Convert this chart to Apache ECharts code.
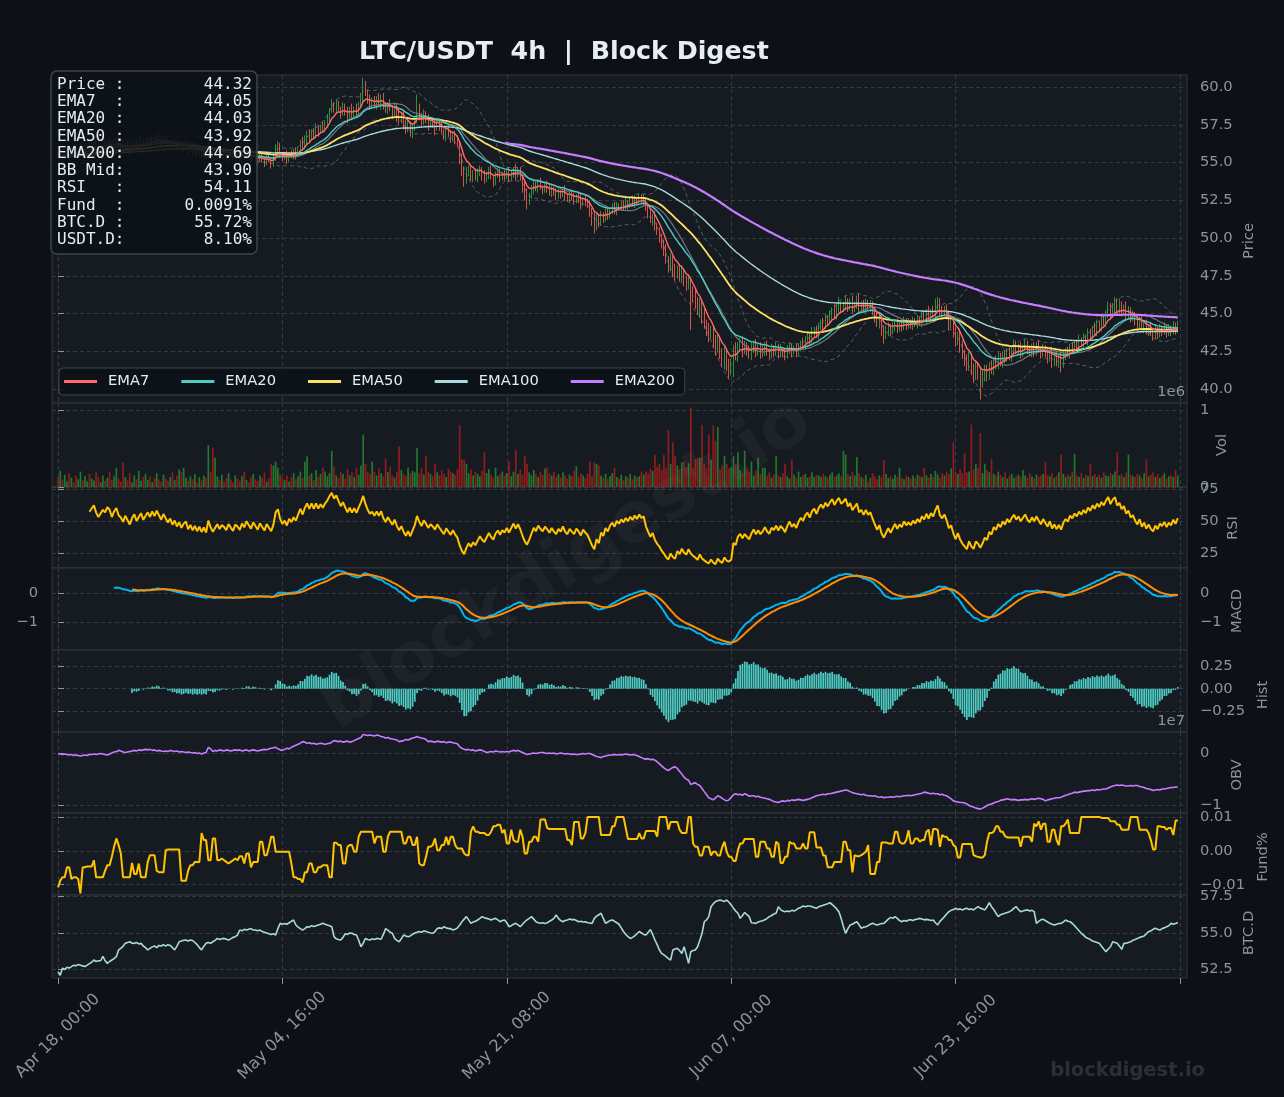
<!DOCTYPE html>
<html><head><meta charset="utf-8">
<script src="https://cdn.jsdelivr.net/npm/echarts@6/dist/echarts.min.js"></script>
<style>html,body{margin:0;padding:0;background:#0d1117;}#c{width:1284px;height:1097px;}</style>
</head><body><div id="c"></div>
<script>
// ---------- data ----------
const dateLabels = ['Apr 18, 00:00','May 04, 16:00','May 21, 08:00','Jun 07, 00:00','Jun 23, 16:00'];
const firstOpen = 55.5;
const close = [
55.4,55.6,55.3,55.5,55.8,55.6,55.9,55.7,55.6,55.9,56.1,55.8,56.0,56.2,55.9,56.1,56.3,56.0,55.8,56.0,
56.2,56.1,56.4,56.3,56.0,56.3,56.5,56.2,56.1,55.9,56.2,56.0,55.8,56.1,56.3,56.0,56.2,56.4,56.1,56.3,
56.5,56.3,56.6,56.4,56.7,56.5,56.3,56.6,56.4,56.2,56.4,56.1,56.3,56.0,56.2,55.9,56.1,56.2,55.8,56.0,
55.7,55.9,55.6,55.8,55.5,55.7,55.4,56.0,55.6,55.3,55.5,55.7,55.4,55.6,55.5,55.3,55.6,55.4,55.2,55.5,
55.4,55.2,55.5,55.3,55.6,55.4,55.2,55.5,55.3,55.1,55.4,55.2,55.0,55.3,55.1,54.9,55.2,55.9,56.1,55.6,
55.3,55.5,55.2,55.6,55.4,55.7,55.5,55.9,56.3,56.0,56.5,56.9,56.6,57.1,56.8,57.3,57.0,57.4,57.2,57.6,
57.9,58.4,58.8,58.5,58.9,58.6,58.3,58.7,58.4,58.1,58.5,58.2,58.6,58.3,58.8,59.3,60.1,59.6,59.2,58.9,
59.1,58.8,59.2,58.9,59.3,58.8,58.5,58.9,58.6,58.3,58.7,58.2,57.8,58.1,57.6,57.2,57.5,57.0,57.4,57.8,
58.6,58.1,57.7,58.2,57.9,57.5,57.8,57.6,57.3,57.7,57.4,57.1,56.8,57.2,56.9,56.6,56.9,56.5,56.2,55.3,
54.5,53.9,54.3,54.6,54.1,54.4,54.0,54.3,54.6,54.2,53.9,54.2,54.5,54.1,53.8,54.2,54.4,54.0,54.3,54.1,
54.4,54.0,54.3,54.6,54.2,54.5,54.1,53.5,52.9,52.5,52.8,53.2,53.6,53.3,53.7,53.4,53.2,53.5,53.3,53.0,
53.3,53.0,52.8,53.1,52.9,53.2,52.8,52.6,52.9,52.7,52.5,52.8,52.6,52.3,52.6,52.4,52.2,51.8,51.3,50.9,
51.4,51.0,51.6,51.3,51.8,51.5,51.9,52.1,51.8,52.2,52.0,52.3,52.1,52.4,52.2,52.5,52.3,52.6,52.4,52.7,
52.5,52.6,52.0,51.6,51.2,51.4,50.8,50.4,50.1,49.6,49.2,48.6,48.2,48.5,47.9,47.6,48.0,47.5,47.8,47.2,
46.9,47.2,46.5,46.1,45.8,45.3,45.6,44.8,44.4,44.0,43.7,43.9,43.2,42.8,43.1,42.5,42.1,42.4,41.7,41.5,
41.6,42.6,42.3,42.9,43.1,42.6,42.9,42.6,42.3,42.7,43.0,42.5,42.8,42.4,42.6,42.9,42.5,42.3,42.7,42.5,
42.8,42.4,42.7,42.5,42.2,42.6,42.9,42.5,42.7,42.4,42.8,43.1,42.9,43.3,43.5,43.2,43.7,43.9,43.6,44.1,
44.4,44.2,44.7,44.5,44.9,45.2,44.9,45.3,45.6,45.3,45.5,45.8,45.4,45.7,45.3,45.6,45.9,45.4,45.6,45.3,
45.7,45.4,45.6,45.2,44.8,44.4,44.7,44.0,43.6,43.9,44.2,43.8,44.1,44.4,44.0,44.3,44.1,44.5,44.2,44.4,
44.2,44.5,44.3,44.6,44.4,44.8,44.6,45.0,44.7,45.1,44.9,45.4,45.8,45.2,45.0,45.3,44.9,44.3,44.5,43.8,
43.2,43.6,42.9,42.4,42.0,41.6,42.1,41.4,41.0,41.5,41.2,40.6,40.9,41.3,41.0,41.6,41.3,41.9,41.6,42.1,
41.8,42.3,42.0,42.5,42.2,42.6,42.9,42.5,42.8,42.4,42.7,43.0,42.6,42.4,42.8,42.5,42.9,42.6,42.3,42.7,
42.4,42.1,42.5,41.9,42.2,41.8,42.1,41.7,42.2,42.5,42.3,42.8,42.6,43.0,42.8,43.2,43.0,43.4,43.2,43.7,
43.5,44.0,43.8,44.3,44.1,44.6,44.4,44.9,45.3,44.9,45.4,45.7,45.2,45.5,45.1,45.4,44.9,45.2,44.7,44.9,
44.5,44.2,44.6,44.0,44.3,43.8,44.1,43.7,43.5,43.9,43.6,44.0,43.8,44.1,43.7,44.0,43.8,44.2,43.9,44.32];
// upper / lower wick lengths in tenths of a dollar
const wickUp = [
2,1,3,2,1,4,2,1,3,2,2,1,3,1,2,3,1,2,4,1, 2,3,1,2,1,3,2,1,2,4,1,2,1,3,2,1,2,3,1,2,
3,1,2,2,1,3,2,1,2,3,1,2,2,1,3,2,1,2,3,1, 2,1,3,2,1,2,3,4,2,1,3,2,1,2,3,1,2,2,1,3,
2,1,2,3,1,2,1,3,2,1,2,3,1,2,2,1,3,3,3,2, 1,2,3,1,2,2,3,1,2,4,3,2,3,1,2,3,2,1,3,2,
3,2,4,2,3,2,1,3,2,3,2,4,1,3,2,3,5,3,2,3, 2,3,2,4,2,3,2,1,3,2,3,2,4,2,3,2,3,2,1,3,
9,3,2,3,2,3,2,1,3,2,2,3,1,2,3,2,1,2,3,2, 3,2,4,2,3,1,2,3,2,1,3,2,2,3,1,2,3,2,1,2,
2,3,2,1,3,2,2,1,3,4,2,3,2,1,2,3,1,2,3,2, 2,1,3,2,1,2,3,1,2,2,3,1,2,3,1,2,2,3,2,4,
3,2,2,1,3,2,1,2,3,2,1,2,2,3,1,2,3,2,1,2, 2,3,1,2,3,2,4,2,3,2,3,4,2,5,3,4,2,3,4,2,
3,4,2,3,5,3,4,3,5,2,4,3,3,4,5,3,2,4,3,3, 4,3,5,2,3,4,3,2,3,4,2,3,2,3,4,2,3,2,3,2,
3,2,3,1,2,3,2,1,2,3,2,1,3,2,3,2,4,2,3,3, 2,3,3,2,3,2,4,3,5,2,3,4,2,3,5,2,3,4,2,3,
3,2,3,2,2,3,2,3,2,3,2,1,3,2,3,2,2,3,2,3, 2,3,2,3,2,3,4,3,5,2,4,6,3,2,3,2,3,2,3,2,
3,2,4,3,2,3,4,3,3,4,3,3,4,3,3,2,3,2,3,4, 3,2,3,2,3,2,4,3,2,3,2,3,2,3,2,3,2,3,2,3,
2,3,2,3,2,3,2,4,3,2,3,2,3,2,3,4,2,3,2,3, 3,2,4,3,2,4,3,3,5,4,3,4,3,5,3,2,4,3,2,3,
2,3,2,3,2,3,2,3,2,3,2,3,2,3,2,3,2,3,2,2];
const wickDn = [
1,3,2,1,2,1,3,2,1,2,3,1,2,2,1,3,2,1,2,3, 2,1,2,3,1,2,1,3,2,3,1,2,3,1,2,2,1,3,2,1,
2,3,1,2,2,1,3,2,1,2,3,2,1,2,3,1,2,2,3,1, 2,2,3,1,2,3,1,2,3,4,2,1,3,2,1,2,3,1,2,2,
1,2,3,1,2,2,3,1,2,3,1,2,3,2,1,3,2,1,2,3, 2,1,3,2,1,2,3,1,2,2,1,3,2,1,2,2,3,1,2,2,
2,3,1,2,3,2,4,2,3,5,2,3,2,3,2,2,3,2,3,4, 3,2,3,2,4,3,2,3,2,4,3,5,3,2,4,3,2,3,4,3,
2,3,4,2,3,4,2,3,5,2,3,2,3,4,2,3,2,3,2,4, 4,5,3,2,3,4,2,3,2,4,3,2,3,2,4,3,2,3,2,3,
2,3,2,3,4,2,3,5,4,6,3,2,3,2,3,2,3,2,3,2, 3,2,3,2,3,2,3,2,3,2,3,2,3,4,2,3,2,4,5,6,
4,3,2,3,2,3,2,3,2,3,2,2,3,2,3,2,2,3,2,2, 2,3,2,3,2,4,3,2,4,3,4,3,5,4,5,4,3,4,5,4,
4,3,26,4,5,4,6,5,4,5,6,4,5,6,4,5,6,8,5,8, 6,8,4,5,4,5,3,4,3,4,3,4,3,4,3,4,3,4,3,4,
3,4,3,4,3,2,3,4,2,3,2,3,2,3,2,3,2,3,2,3, 2,3,2,3,2,3,2,3,2,3,2,3,3,2,3,2,3,4,3,2,
3,2,3,3,4,3,4,5,6,3,4,3,2,3,3,2,3,2,3,2, 2,3,2,3,2,3,2,3,2,3,2,3,2,3,3,2,3,4,3,4,
4,3,5,4,5,4,4,5,6,4,6,13,5,4,5,4,3,4,3,3, 3,4,3,2,3,4,3,2,3,4,3,2,3,2,3,4,3,2,3,2,
3,4,3,5,4,3,4,6,3,3,2,3,2,3,2,3,2,3,2,3, 2,3,2,3,2,3,2,3,2,3,2,3,3,2,3,2,3,2,3,2,
3,2,3,2,3,2,3,2,3,2,3,2,3,2,3,2,3,2,3,2];
// volume in thousands
const volume = [
130,210,95,160,70,180,120,60,150,100,200,90,140,75,170,110,85,190,130,60,
150,80,120,200,90,140,250,110,70,320,130,90,180,60,150,100,210,80,130,170,
90,140,60,120,180,100,70,160,110,80,130,190,90,150,230,200,250,120,80,140,
100,170,60,130,90,150,120,545,200,510,380,140,90,160,70,120,180,100,60,150,
110,80,140,200,90,60,130,170,100,80,150,120,190,70,110,300,280,330,250,160,
120,90,150,70,130,180,100,140,200,120,330,400,150,180,90,220,130,170,250,200,
140,180,470,260,150,120,200,170,110,230,150,190,130,250,160,280,680,300,200,170,
330,200,150,240,180,140,370,190,260,150,120,200,530,220,170,140,250,180,210,190,
510,180,240,160,410,200,170,140,300,190,150,220,170,130,240,200,180,160,230,800,
360,350,300,180,230,150,200,170,140,210,450,180,230,160,120,250,140,170,200,150,
180,330,140,200,480,170,230,160,400,300,190,150,220,170,130,200,160,240,250,180,
150,200,130,170,120,190,150,110,160,140,210,270,130,180,150,120,170,330,140,320,
300,280,150,120,170,100,140,180,250,130,110,160,90,140,120,170,100,150,130,140,
200,160,200,180,240,210,420,260,300,220,420,250,740,300,580,400,280,230,320,330,
260,310,1030,240,360,380,380,810,300,250,680,350,800,600,780,230,280,400,300,240,
260,400,300,450,220,180,470,250,200,330,150,210,380,170,250,250,140,190,120,160,
400,150,130,180,300,140,110,350,160,120,200,130,150,170,120,140,190,130,160,150,
130,170,140,120,160,190,130,150,180,140,470,420,170,140,200,150,390,180,130,110,
160,70,120,180,140,100,150,130,350,170,120,140,110,160,130,250,120,100,150,130,
110,150,120,160,140,130,250,150,120,170,130,210,160,120,180,150,200,170,240,580,
200,170,230,180,440,190,200,810,230,300,250,700,180,300,220,190,360,170,150,200,
160,130,190,110,150,170,120,140,160,130,220,150,120,180,140,110,160,130,150,170,
330,160,140,180,120,150,190,420,170,130,160,140,200,430,150,130,180,120,160,140,
300,140,170,130,160,120,190,150,140,180,160,200,450,150,170,130,190,420,160,140,
130,170,150,120,180,360,140,160,190,130,170,120,150,180,110,140,160,130,220,150];
// OBV in units of 1e5
const obv = [
0,-1,-2,-1,-2,-3,-2,-4,-3,-4,-5,-4,-3,-4,-2,-2,-1,-2,-1,0,
-1,-2,-3,-1,1,3,4,6,5,3,2,3,4,5,6,5,7,6,7,8,
7,8,6,7,5,6,5,4,5,4,6,5,4,5,3,4,3,2,3,2,
1,2,0,1,-1,1,2,12,9,4,6,5,7,6,5,7,6,5,6,7,
6,7,5,6,7,5,6,7,6,5,6,7,8,7,9,10,11,12,9,7,
6,8,10,9,12,14,16,18,20,23,22,20,21,19,20,18,19,20,19,18,
19,20,22,25,24,23,24,22,23,24,22,23,25,27,29,31,37,36,35,36,
35,34,36,35,33,32,30,31,29,28,27,26,23,24,25,27,26,28,30,31,
33,31,30,29,27,23,24,23,22,24,23,22,23,21,22,22,21,20,19,13,
10,8,7,8,6,7,5,6,7,6,4,2,3,4,3,5,4,3,4,3,
4,3,5,6,5,6,4,2,0,-2,-1,0,1,0,1,2,2,1,0,1,
0,1,-1,0,1,0,-1,0,-1,-2,-1,-2,-2,-1,0,-1,0,0,-2,-4,
-6,-7,-8,-6,-5,-4,-3,-3,-2,-3,-2,-3,-2,-1,-2,-3,-2,-3,-4,-6,
-8,-10,-11,-10,-12,-11,-13,-16,-20,-24,-28,-31,-33,-30,-27,-26,-29,-35,-40,-46,
-50,-52,-60,-58,-57,-60,-62,-68,-74,-80,-86,-88,-90,-86,-82,-84,-87,-90,-92,-90,
-85,-80,-78,-80,-79,-81,-78,-80,-83,-82,-82,-84,-83,-85,-86,-87,-88,-89,-91,-93,
-94,-95,-93,-92,-93,-91,-92,-90,-91,-90,-89,-90,-91,-90,-89,-88,-86,-84,-82,-81,
-80,-79,-80,-78,-78,-77,-76,-75,-74,-73,-72,-71,-72,-74,-76,-77,-78,-79,-80,-79,
-81,-82,-82,-83,-82,-84,-85,-84,-86,-85,-85,-84,-85,-84,-83,-84,-83,-82,-82,-81,
-82,-81,-80,-79,-78,-77,-75,-76,-77,-78,-77,-78,-78,-80,-79,-81,-82,-85,-88,-92,
-93,-94,-95,-95,-96,-98,-101,-103,-104,-106,-107,-108,-106,-104,-101,-99,-98,-96,-94,-93,
-91,-90,-89,-88,-89,-90,-89,-90,-91,-90,-90,-89,-90,-89,-88,-89,-88,-87,-88,-89,
-92,-90,-89,-88,-87,-86,-86,-85,-83,-81,-80,-78,-77,-75,-76,-75,-74,-73,-73,-72,
-72,-71,-72,-70,-71,-70,-69,-69,-67,-65,-63,-62,-61,-62,-61,-62,-63,-63,-62,-63,
-62,-62,-64,-65,-66,-68,-69,-70,-72,-71,-70,-71,-69,-69,-68,-67,-66,-66,-65,-65];
// funding rate in units of 0.0001 %
const funding = [
-108,-88,-78,-78,-48,-48,-83,-78,-78,-83,-126,-48,-48,-46,-46,-46,-27,-78,-78,-78,
-78,-58,-42,-42,-17,13,38,18,-7,-78,-78,-78,-78,-35,-68,-68,-37,-78,-78,-78,
-32,-12,-12,-12,-58,-63,-63,-63,3,5,5,5,5,5,5,-88,-88,-88,-58,-42,
-42,-32,-32,-32,54,33,33,-27,-27,38,38,-27,-27,-22,-27,-32,-37,-32,-27,-22,
-27,-15,-15,-37,-7,-7,-48,-32,-32,-32,28,28,-12,-12,13,43,43,-2,-2,-2,
-2,-2,-2,-2,-37,-78,-78,-83,-83,-93,-63,-63,-37,-37,-63,-63,-48,-48,-42,-42,
-42,-78,-78,25,25,18,18,-37,-37,13,18,18,-2,-2,43,58,58,58,58,58,
58,23,43,43,43,-2,-2,43,58,58,58,58,58,58,23,23,43,43,18,18,
43,-37,-42,-42,-17,13,13,18,38,3,3,18,18,43,18,43,43,18,8,8,
8,-7,-12,-12,58,74,58,58,54,54,54,48,48,58,74,74,79,79,54,64,
23,23,64,33,28,28,64,43,-7,-7,28,28,43,43,28,94,94,94,69,66,
66,66,66,66,66,66,66,33,33,18,87,87,87,38,38,54,102,102,102,102,
102,102,48,48,48,48,48,74,74,102,102,102,102,69,36,36,36,36,36,54,
38,38,60,60,60,60,60,43,102,102,102,102,64,87,87,87,87,64,54,54,
54,102,102,23,13,13,-13,-13,13,13,13,-13,-2,-2,-13,-13,13,28,-2,-17,
-17,-29,-29,3,23,23,36,36,36,36,36,-17,-17,28,28,28,8,8,-17,-17,
28,23,-35,-35,-17,-17,28,23,23,8,8,8,23,8,8,56,56,56,11,11,
11,-13,-13,-48,-48,-48,-32,-32,-32,-32,28,28,3,3,-63,-12,-15,-15,-12,-7,
-2,18,-68,-68,-68,-32,-32,26,26,26,23,23,23,58,58,28,23,23,33,62,
23,23,38,38,28,33,33,58,64,18,66,66,64,13,48,43,43,33,33,18,
13,-19,-19,21,21,21,21,21,-12,-15,-17,-19,-19,-12,28,54,54,58,74,74,
58,58,45,41,41,41,41,41,41,13,43,43,43,43,28,82,74,89,64,82,
82,28,28,64,64,33,18,74,74,82,94,54,54,54,54,54,102,102,102,102,
102,102,102,102,102,99,99,99,99,89,89,89,79,79,64,64,64,64,102,102,
102,102,64,64,64,64,54,33,5,5,74,74,72,72,64,69,69,48,91,91];
// BTC dominance %
const btcDom = [
52.35,52.1,52.6,52.5,52.65,52.6,52.7,52.8,52.75,52.85,52.8,52.75,52.7,52.8,52.9,53.0,53.15,53.05,53.1,53.1,
53.4,53.1,52.92,53.05,53.15,53.25,53.38,53.84,53.95,54.1,54.29,54.35,54.4,54.3,54.29,54.35,54.25,54.29,54.11,54.0,
53.84,53.95,54.05,54.11,54.0,54.15,54.11,54.2,54.1,54.2,54.15,54.0,53.84,54.1,54.4,54.45,54.5,54.52,54.45,54.52,
54.48,54.35,54.2,54.0,53.84,54.1,54.29,54.35,54.3,54.4,54.5,54.63,54.55,54.6,54.63,54.58,54.52,54.6,54.7,54.75,
54.86,55.2,55.15,55.25,55.2,55.25,55.3,55.2,55.2,55.15,55.2,55.1,55.05,55.0,54.95,54.9,54.95,54.86,55.3,55.66,
55.6,55.65,55.6,55.7,55.8,55.89,55.55,55.4,55.3,55.2,55.3,55.43,55.4,55.5,55.45,55.5,55.55,55.6,55.66,55.6,
55.55,55.5,55.43,54.75,54.6,54.55,54.52,54.7,54.95,54.9,55.0,54.98,54.9,54.86,54.5,54.06,54.3,54.63,54.55,54.52,
54.6,54.55,54.63,54.6,54.57,54.9,55.3,55.2,55.05,54.98,54.63,54.5,54.4,54.6,54.86,54.8,54.75,54.8,54.9,55.0,
55.05,55.1,55.05,55.15,55.1,55.05,55.0,54.98,55.1,55.3,55.35,55.3,55.43,55.35,55.3,55.3,55.2,55.25,55.35,55.55,
55.77,55.95,56.12,55.9,55.66,55.75,55.8,55.89,56.0,56.12,56.05,56.0,55.95,55.89,55.95,56.0,55.9,55.77,55.85,55.89,
55.7,55.43,55.5,55.6,55.66,55.55,55.43,55.6,55.77,55.9,56.0,56.12,55.95,55.77,55.7,55.66,55.7,55.65,55.7,55.8,
55.89,56.0,56.23,56.0,55.85,55.77,55.85,55.89,55.95,55.9,55.93,55.85,55.77,55.8,55.75,55.77,55.7,55.68,55.66,56.0,
56.15,56.25,56.35,56.0,55.66,55.75,55.85,55.89,55.8,55.7,55.6,55.35,55.1,54.9,54.75,54.63,54.7,54.8,54.95,55.1,
55.0,54.9,54.86,55.05,55.24,54.9,54.52,54.2,53.84,53.6,53.5,53.38,53.25,53.15,53.84,53.9,53.95,53.8,53.6,54.06,
53.5,52.92,53.72,53.8,53.84,54.06,54.5,54.98,55.77,55.9,56.12,56.8,57.0,57.15,57.2,57.26,57.2,57.15,57.26,57.1,
56.92,56.7,56.5,56.35,56.0,56.2,56.4,56.25,56.12,55.7,55.68,55.66,55.75,55.8,55.84,55.9,56.0,56.12,56.2,56.3,
56.35,56.8,56.6,56.5,56.46,56.5,56.46,56.55,56.5,56.58,56.7,56.75,56.85,56.8,56.85,56.85,56.8,56.75,56.69,56.8,
56.85,56.9,56.95,57.0,57.07,56.95,56.8,56.65,56.46,56.0,55.43,54.98,55.3,55.55,55.6,55.7,55.77,55.55,55.32,55.4,
55.43,55.5,55.6,55.66,55.6,55.55,55.6,55.65,55.66,55.8,55.95,56.07,56.0,56.12,56.0,55.85,55.77,55.85,55.8,55.89,
55.9,55.85,55.93,55.95,56.0,55.95,55.9,55.93,55.9,55.85,55.89,55.7,55.55,55.8,55.95,56.12,56.3,56.46,56.55,56.6,
56.69,56.6,56.65,56.58,56.65,56.69,56.6,56.65,56.58,56.7,56.8,56.7,56.65,56.58,56.8,57.07,56.8,56.6,56.35,56.12,
56.25,56.3,56.35,56.4,56.46,56.55,56.7,56.8,56.6,56.46,56.5,56.55,56.58,56.5,56.55,56.46,55.66,55.8,55.9,55.94,
55.85,55.75,55.66,55.6,55.55,55.6,55.65,55.66,55.75,55.89,55.8,55.77,55.65,55.5,55.32,55.15,54.98,54.85,54.7,54.63,
54.55,54.45,54.4,54.35,54.29,54.1,53.9,53.72,53.9,54.06,54.4,54.35,54.29,54.1,53.88,54.29,54.3,54.35,54.4,54.5,
54.55,54.63,54.7,54.75,54.8,54.95,55.09,55.15,55.25,55.32,55.25,55.2,55.3,55.35,55.43,55.5,55.66,55.6,55.65,55.72];
const infoLabels = ['Price :','EMA7  :','EMA20 :','EMA50 :','EMA200:','BB Mid:','RSI   :','Fund  :','BTC.D :','USDT.D:'];
const infoValues = ['44.32','44.05','44.03','43.92','44.69','43.90','54.11','0.0091%','55.72%','8.10%'];
const panelNames = ['Price','Vol','RSI','MACD','Hist','OBV','Fund%','BTC.D'];

// ---------- derived (indicators computed from the candles) ----------
const N = close.length;
const open = close.map((c,i)=> i===0 ? firstOpen : close[i-1]);
const high = close.map((c,i)=> Math.max(open[i],c) + wickUp[i]/10);
const low  = close.map((c,i)=> Math.min(open[i],c) - wickDn[i]/10);
function ema(src,n,start){ start=start||0; const a=2/(n+1); const out=new Array(src.length).fill(null); let e=null;
  for(let i=start;i<src.length;i++){ e = e===null ? src[i] : a*src[i]+(1-a)*e; out[i]=e; } return out; }
const pts = (arr,start)=>{ const o=[]; for(let i=start;i<arr.length;i++){ if(arr[i]!=null) o.push([i,arr[i]]);} return o; };
const e7=ema(close,7), e20=ema(close,20), e50=ema(close,50), e100=ema(close,100), e200=ema(close,200);
const bbMid=[], bbUp=[], bbLo=[];
for(let i=19;i<N;i++){ const w=close.slice(i-19,i+1); const m=w.reduce((s,v)=>s+v,0)/20;
  const sd=Math.sqrt(w.reduce((s,v)=>s+(v-m)*(v-m),0)/19); bbMid.push([i,m]); bbUp.push([i,m+2*sd]); bbLo.push([i,m-2*sd]); }
// RSI(14), Wilder smoothing
const rsi=[]; { let ag=0, al=0;
  for(let i=1;i<=14;i++){ const d=close[i]-close[i-1]; ag+=Math.max(d,0); al+=Math.max(-d,0);} ag/=14; al/=14;
  rsi.push([14, 100-100/(1+ag/al)]);
  for(let i=15;i<N;i++){ const d=close[i]-close[i-1]; ag=(ag*13+Math.max(d,0))/14; al=(al*13+Math.max(-d,0))/14; rsi.push([i, 100-100/(1+ag/al)]); } }
const e12=ema(close,12), e26=ema(close,26);
const macdRaw = close.map((_,i)=>e12[i]-e26[i]);
const sig = ema(macdRaw,9,25);
const macdPts = pts(macdRaw,25), sigPts = pts(sig,33);
const histPts = []; for(let i=33;i<N;i++) histPts.push([i, macdRaw[i]-sig[i]]);

// ---------- styling ----------
const AX='#8b949e', GL='#343a43', FONT='DejaVu Sans', TXT='#e6edf3';
const UP='#2ea043', DN='#f05a50', VUP='#23772f', VDN='#8e1d1d';
const minus = s => s.replace('-', '\u2212');
const onStep = (v,st)=> Math.abs(v/st - Math.round(v/st)) < 1e-6;
const panels = [
 {top:75,  h:328, min:39.073, max:60.795, step:2.5, ticks:[40,42.5,45,47.5,50,52.5,55,57.5,60], fmt:v=>v.toFixed(1)},
 {top:403, h:84,  min:0, max:1090.9, step:1000, ticks:[0,1000], fmt:v=>String(Math.round(v/1000))},
 {top:487, h:81,  min:13.67, max:76.95, step:25, ticks:[25,50,75], fmt:v=>String(Math.round(v))},
 {top:568, h:82,  min:-1.972, max:0.855, step:1, ticks:[-1,0], fmt:v=>minus(String(Math.round(v)))},
 {top:650, h:82,  min:-0.483, max:0.432, step:0.25, ticks:[-0.25,0,0.25], fmt:v=>minus(v.toFixed(2))},
 {top:732, h:81,  min:-115.5, max:41.7, step:100, ticks:[-100,0], fmt:v=>minus(String(Math.round(v/100)))},
 {top:813, h:82,  min:-130.7, max:113.7, step:100, ticks:[-100,0,100], fmt:v=>minus((v/10000).toFixed(2))},
 {top:895, h:83,  min:51.92, max:57.60, step:2.5, ticks:[52.5,55,57.5], fmt:v=>v.toFixed(1)}
];
const grids = panels.map(p=>({left:52, right:97, top:p.top, height:p.h, show:true, backgroundColor:'#161b22',
  borderColor:'#30363d', borderWidth:1, containLabel:false, outerBoundsMode:'none'}));
const xAxes = panels.map((p,k)=>({type:'value', gridIndex:k, min:-2.67, max:503.1, minInterval:100, maxInterval:100, splitNumber:5,
  axisLine:{show:false},
  axisTick:{show:k===7, length:6, lineStyle:{color:AX}, customValues:[0,100,200,300,400,500]},
  axisLabel:{show:k===7, customValues:[0,100,200,300,400], rotate:45, align:'center', verticalAlign:'middle', margin:58,
    color:AX, fontSize:16.3, fontFamily:FONT, formatter:v=> onStep(v,100) ? (dateLabels[Math.round(v/100)]||'') : ''},
  splitLine:{show:true, lineStyle:{color:GL, type:[4,3], width:1}}}));
const yAxes = panels.map((p,k)=>({type:'value', gridIndex:k, position:'right', min:p.min, max:p.max,
  minInterval:p.step, maxInterval:p.step, axisLine:{show:false},
  axisTick:{show:true, length:6, lineStyle:{color:AX}, customValues:p.ticks},
  axisLabel:{customValues:p.ticks, color:AX, fontSize:14.7, fontFamily:FONT, margin:13, formatter:v=> onStep(v,p.step)? p.fmt(v):''},
  splitLine:{show:true, lineStyle:{color:GL, type:[4,3], width:1}}}));
yAxes.push({type:'value', gridIndex:3, position:'left', min:panels[3].min, max:panels[3].max, minInterval:1, maxInterval:1,
  axisLine:{show:false}, axisTick:{show:false}, splitLine:{show:false},
  axisLabel:{customValues:[-1,0], color:AX, fontSize:14.7, fontFamily:FONT, margin:14, formatter:v=> onStep(v,1)? minus(String(Math.round(v))):''}});

const line = (name,data,color,width,g,z,extra)=>Object.assign({type:'line', name, data, xAxisIndex:g, yAxisIndex:g,
  showSymbol:false, symbol:'none', color, itemStyle:{color}, lineStyle:{color, width}, z:z||3, silent:true, animation:false}, extra||{});

const series = [
  line('BBU', bbUp, 'rgba(139,148,158,0.55)', 1, 0, 1, {lineStyle:{color:'rgba(139,148,158,0.55)', width:1, type:[4,3]}}),
  line('BBL', bbLo, 'rgba(139,148,158,0.55)', 1, 0, 1, {lineStyle:{color:'rgba(139,148,158,0.55)', width:1, type:[4,3]}}),
  line('BBM', bbMid, 'rgba(139,148,158,0.75)', 1.2, 0, 1),
  {type:'candlestick', name:'LTC', xAxisIndex:0, yAxisIndex:0, barWidth:1.3, z:2, silent:true, animation:false,
    data: close.map((c,i)=>[i, open[i], c, low[i], high[i]]),
    itemStyle:{color:UP, color0:DN, borderColor:UP, borderColor0:DN, borderWidth:0.9}},
  line('EMA100', pts(e100,0), '#a8dadc', 1.4, 0, 3),
  line('EMA50', pts(e50,0), '#ffe066', 1.8, 0, 3),
  line('EMA20', pts(e20,0), '#4ecdc4', 1.4, 0, 3),
  line('EMA7', pts(e7,0), '#ff6b6b', 1.4, 0, 3),
  line('EMA200', pts(e200,199), '#c77dff', 2.2, 0, 3),
  {type:'bar', name:'Vol', xAxisIndex:1, yAxisIndex:1, barWidth:1.7, silent:true, animation:false,
    data: volume.map((v,i)=>({value:[i,v], itemStyle:{color: close[i]>=open[i]?VUP:VDN}}))},
  line('RSI', rsi, '#ffc300', 2, 2, 3),
  line('MACD', macdPts, '#00b4f0', 2, 3, 3),
  line('Signal', sigPts, '#ff8c00', 2, 3, 3),
  {type:'bar', name:'Hist', xAxisIndex:4, yAxisIndex:4, barWidth:1.7, silent:true, animation:false,
    itemStyle:{color:'#4ecdc4'}, data: histPts},
  line('OBV', obv.map((v,i)=>[i,v]), '#c77dff', 1.6, 5, 3),
  line('Fund', funding.map((v,i)=>[i,v]), '#ffc300', 2, 6, 3),
  line('BTC.D', btcDom.map((v,i)=>[i,v]), '#a8dadc', 1.6, 7, 3)
];

const nameSpots = [[1249,241],[1222,445],[1233,528],[1237,611],[1263,695],[1237,775],[1263,857],[1249,933]];
const graphic = [
  {type:'text', x:359, y:52, z:100, silent:true, style:{text:'LTC/USDT  4h  |  Block Digest', fill:TXT, font:'bold 25.3px "DejaVu Sans"', align:'left', verticalAlign:'middle'}},
  {type:'text', x:567, y:566, rotation:0.56, z:60, silent:true, style:{text:'blockdigest.io', fill:'rgba(255,255,255,0.035)', font:'bold 71px "DejaVu Sans"', align:'center', verticalAlign:'middle'}},
  {type:'text', x:1205, y:1071, z:100, silent:true, style:{text:'blockdigest.io', fill:'#2a3039', font:'bold 19.5px "DejaVu Sans"', align:'right', verticalAlign:'middle'}},
  {type:'text', x:1185, y:392, z:100, silent:true, style:{text:'1e6', fill:AX, font:'14.7px "DejaVu Sans"', align:'right', verticalAlign:'middle'}},
  {type:'text', x:1185, y:721, z:100, silent:true, style:{text:'1e7', fill:AX, font:'14.7px "DejaVu Sans"', align:'right', verticalAlign:'middle'}},
  {type:'rect', z:100, silent:true, shape:{x:51, y:71, width:206, height:183, r:6}, style:{fill:'rgba(13,17,23,0.88)', stroke:'#3d444d', lineWidth:1.5}},
  {type:'text', x:57, y:76, z:101, silent:true, style:{text:infoLabels.join('\n'), fill:TXT, font:'16px "DejaVu Sans Mono"', lineHeight:17.26, align:'left', verticalAlign:'top'}},
  {type:'text', x:252, y:76, z:101, silent:true, style:{text:infoValues.join('\n'), fill:TXT, font:'16px "DejaVu Sans Mono"', lineHeight:17.26, align:'right', verticalAlign:'top'}}
].concat(panelNames.map((n,k)=>({type:'text', x:nameSpots[k][0], y:nameSpots[k][1], rotation:Math.PI/2, z:100, silent:true,
  style:{text:n, fill:AX, font:'14.7px "DejaVu Sans"', align:'center', verticalAlign:'middle'}})));

const chart = echarts.init(document.getElementById('c'), null, {renderer:'canvas', width:1284, height:1097});
chart.setOption({
  backgroundColor:'#0d1117', animation:false,
  grid: grids, xAxis: xAxes, yAxis: yAxes, series,
  legend:{data:['EMA7','EMA20','EMA50','EMA100','EMA200'], left:59, top:368, icon:'rect', itemWidth:33, itemHeight:3, itemGap:32,
    padding:[6,10,6,5], backgroundColor:'rgba(13,17,23,0.88)', borderColor:'#3d444d', borderWidth:1, borderRadius:4, selectedMode:false, z:50,
    textStyle:{color:TXT, fontSize:14.7, fontFamily:FONT, padding:[0,0,0,6]}},
  graphic
});
</script></body></html>
